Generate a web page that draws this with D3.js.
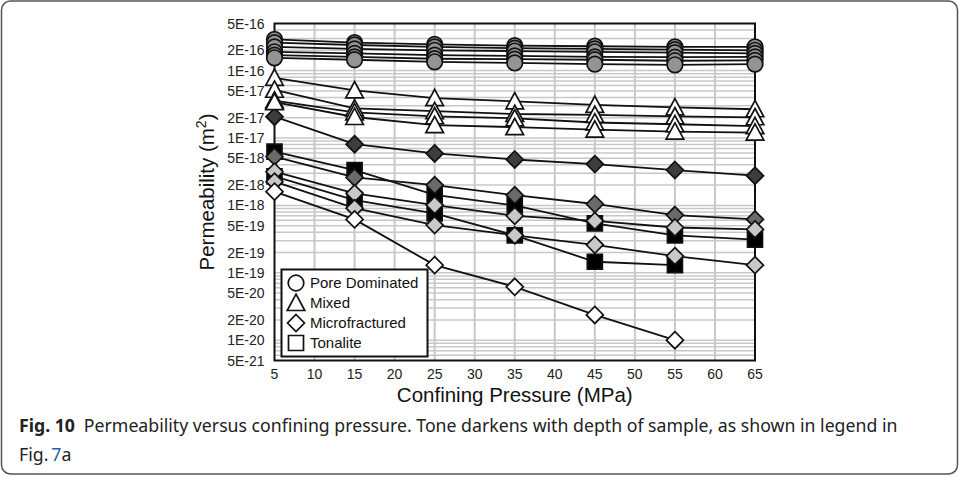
<!DOCTYPE html>
<html>
<head>
<meta charset="utf-8">
<script src="https://cdn.jsdelivr.net/npm/d3@7"></script>
<style>
  body { margin: 0; background: #fff; }
  svg { display: block; }
  .tick-label { font-family: 'Liberation Sans', Arial, sans-serif; font-size: 14px; fill: #222; }
  .axis-title { font-family: 'Liberation Sans', Arial, sans-serif; font-size: 20.5px; fill: #111; }
  .legend-label { font-family: 'Liberation Sans', Arial, sans-serif; font-size: 15px; fill: #111; }
  .caption { font-family: 'Noto Sans', 'Open Sans', sans-serif; font-size: 18.5px; fill: #222; }
</style>
</head>
<body>
<div id="chart"></div>
<script>
const pressures = [5, 15, 25, 35, 45, 55, 65]
const xTicks = [5, 10, 15, 20, 25, 30, 35, 40, 45, 50, 55, 60, 65]
const yTicks = [5e-16, 2e-16, 1e-16, 5e-17, 2e-17, 1e-17, 5e-18, 2e-18, 1e-18, 5e-19, 2e-19, 1e-19, 5e-20, 2e-20, 1e-20, 5e-21]
const yTickLabels = ['5E-16', '2E-16', '1E-16', '5E-17', '2E-17', '1E-17', '5E-18', '2E-18', '1E-18', '5E-19', '2E-19', '1E-19', '5E-20', '2E-20', '1E-20', '5E-21']

// permeability (m2) per sample, one value per confining pressure
const poreDominated = [
  [2.9e-16, 2.6e-16, 2.45e-16, 2.35e-16, 2.3e-16, 2.25e-16, 2.25e-16],
  [2.6e-16, 2.4e-16, 2.25e-16, 2.15e-16, 2.1e-16, 2.05e-16, 2.0e-16],
  [2.25e-16, 2.1e-16, 2.0e-16, 1.95e-16, 1.9e-16, 1.85e-16, 1.8e-16],
  [1.9e-16, 1.8e-16, 1.7e-16, 1.65e-16, 1.6e-16, 1.58e-16, 1.6e-16],
  [1.7e-16, 1.6e-16, 1.5e-16, 1.48e-16, 1.45e-16, 1.4e-16, 1.42e-16],
  [1.55e-16, 1.45e-16, 1.35e-16, 1.3e-16, 1.25e-16, 1.22e-16, 1.25e-16]
]
const mixed = [
  [7.8e-17, 5.1e-17, 3.9e-17, 3.5e-17, 3.1e-17, 2.85e-17, 2.67e-17],
  [5.2e-17, 2.75e-17, 2.5e-17, 2.27e-17, 2.2e-17, 2.1e-17, 2.03e-17],
  [3.6e-17, 2.4e-17, 2.1e-17, 1.96e-17, 1.7e-17, 1.6e-17, 1.5e-17],
  [3.4e-17, 2.05e-17, 1.55e-17, 1.45e-17, 1.33e-17, 1.24e-17, 1.2e-17]
]
const microfractured = [
  [2.07e-17, 8.1e-18, 5.9e-18, 4.8e-18, 4.1e-18, 3.35e-18, 2.76e-18],
  [5.3e-18, 2.6e-18, 2.0e-18, 1.42e-18, 1.05e-18, 7.2e-19, 6.2e-19],
  [3.16e-18, 1.51e-18, 1.01e-18, 7.0e-19, 5.9e-19, 4.7e-19, 4.4e-19],
  [2.25e-18, 9.1e-19, 5.1e-19, 3.6e-19, 2.6e-19, 1.77e-19, 1.3e-19],
  [1.6e-18, 6.2e-19, 1.3e-19, 6.2e-20, 2.37e-20, 1.0e-20, null]
]
const tonalite = [
  [6.3e-18, 3.35e-18, 1.43e-18, 1.0e-18, 5.4e-19, 3.6e-19, 3.1e-19],
  [2.7e-18, 1.2e-18, 7.6e-19, 3.6e-19, 1.46e-19, 1.3e-19, null]
]
const legendNames = ['Pore Dominated', 'Mixed', 'Microfractured', 'Tonalite']

// tones (sample depth) for each series
const poreTones = ['#949494', '#949494', '#949494', '#949494', '#949494', '#949494']
const mixedTones = ['#fff', '#fff', '#fff', '#fff']
const microTones = ['#3d3d3d', '#6a6a6a', '#c8c8c8', '#c8c8c8', '#fff']
const tonaliteTones = ['#000', '#000']

const W = 959
const H = 477
const margin = { left: 274.5, right: 755, top: 23.5, bottom: 360.5 }

const svg = d3.select('#chart').append('svg')
  .attr('width', W)
  .attr('height', H)

const x = d3.scaleLinear().domain([5, 65]).range([margin.left, margin.right])
const y = d3.scaleLog().domain([5e-21, 5e-16]).range([margin.bottom, margin.top])

// figure frame
svg.append('rect')
  .attr('x', 1.5).attr('y', 1)
  .attr('width', W - 3).attr('height', H - 4)
  .attr('rx', 9)
  .style('fill', 'none')
  .style('stroke', '#555')
  .style('stroke-width', 1.5)

// grid
const minor = []
for (let e = -21; e <= -16; e++) {
  for (let k = 1; k <= 9; k++) {
    const v = k * Math.pow(10, e)
    if (v > 5e-21 && v < 5e-16) minor.push(v)
  }
}
const grid = svg.append('g')
grid.selectAll('line.h')
  .data(minor)
  .enter()
  .append('line')
  .attr('x1', margin.left).attr('x2', margin.right)
  .attr('y1', (d) => y(d)).attr('y2', (d) => y(d))
  .style('stroke', '#c8c8c8')
  .style('stroke-width', 1.5)
grid.selectAll('line.v')
  .data(xTicks.slice(1, -1))
  .enter()
  .append('line')
  .attr('x1', (d) => x(d)).attr('x2', (d) => x(d))
  .attr('y1', margin.top).attr('y2', margin.bottom)
  .style('stroke', '#c8c8c8')
  .style('stroke-width', 2)

svg.append('rect')
  .attr('x', margin.left).attr('y', margin.top)
  .attr('width', margin.right - margin.left)
  .attr('height', margin.bottom - margin.top)
  .style('fill', 'none')
  .style('stroke', '#111')
  .style('stroke-width', 2)

// tick labels
svg.selectAll('text.ytick')
  .data(yTicks)
  .enter()
  .append('text')
  .attr('class', 'tick-label')
  .attr('x', margin.left - 10)
  .attr('y', (d) => y(d) + 5)
  .attr('text-anchor', 'end')
  .text((d, i) => yTickLabels[i])

svg.selectAll('text.xtick')
  .data(xTicks)
  .enter()
  .append('text')
  .attr('class', 'tick-label')
  .attr('x', (d) => x(d))
  .attr('y', margin.bottom + 18)
  .attr('text-anchor', 'middle')
  .text((d) => d)

svg.append('text')
  .attr('class', 'axis-title')
  .attr('x', (margin.left + margin.right) / 2)
  .attr('y', 402)
  .attr('text-anchor', 'middle')
  .text('Confining Pressure (MPa)')

const yTitle = svg.append('text')
  .attr('class', 'axis-title')
  .attr('text-anchor', 'middle')
  .attr('transform', `translate(214, ${(margin.top + margin.bottom) / 2}) rotate(-90)`)
yTitle.append('tspan').text('Permeability (m')
yTitle.append('tspan').attr('dy', -8).style('font-size', '14px').text('2')
yTitle.append('tspan').attr('dy', 8).text(')')

// marker shapes
function circlePath (r) { return d3.symbol().type(d3.symbolCircle).size(Math.PI * r * r)() }
function diamondPath (s) { return `M0,${-s}L${s},0L0,${s}L${-s},0Z` }
function squarePath (s) { return `M${-s},${-s}H${s}V${s}H${-s}Z` }
function trianglePath (s) { return `M0,${-s}L${s},${s * 0.85}L${-s},${s * 0.85}Z` }

const groups = [
  { series: tonalite, tones: tonaliteTones, path: squarePath(7.5) },
  { series: microfractured, tones: microTones, path: diamondPath(8.5) },
  { series: mixed, tones: mixedTones, path: trianglePath(8.8) },
  { series: poreDominated, tones: poreTones, path: circlePath(7.8) }
]

const line = d3.line()
  .defined((d) => d[1] !== null)
  .x((d) => x(d[0]))
  .y((d) => y(d[1]))

const lineLayer = svg.append('g')
const markLayer = svg.append('g')

groups.forEach((g) => {
  g.series.forEach((vals) => {
    const pts = pressures.map((p, i) => [p, vals[i]])
    lineLayer.append('path')
      .attr('d', line(pts))
      .style('fill', 'none')
      .style('stroke', '#111')
      .style('stroke-width', 1.8)
  })
})

groups.forEach((g) => {
  g.series.forEach((vals, si) => {
    const pts = pressures.map((p, i) => [p, vals[i]]).filter((d) => d[1] !== null)
    markLayer.selectAll(null)
      .data(pts)
      .enter()
      .append('path')
      .attr('d', g.path)
      .attr('transform', (d) => `translate(${x(d[0])},${y(d[1])})`)
      .style('fill', (d) => {
        // first mixed-sample point plotted in light grey in the source
        if (g.series === mixed && si === 2 && d[0] === 5) return '#c8c8c8'
        return g.tones[si]
      })
      .style('stroke', '#111')
      .style('stroke-width', 1.7)
  })
})

// legend
const legend = svg.append('g')
legend.append('rect')
  .attr('x', 281.5).attr('y', 269.5)
  .attr('width', 146).attr('height', 87)
  .style('fill', '#fff')
  .style('stroke', '#111')
  .style('stroke-width', 2)
const legendShapes = [circlePath(7.8), trianglePath(8.8), diamondPath(8.5), squarePath(7.5)]
legendNames.forEach((name, i) => {
  const ly = 283 + i * 20
  legend.append('path')
    .attr('d', legendShapes[i])
    .attr('transform', `translate(296,${ly})`)
    .style('fill', '#fff')
    .style('stroke', '#111')
    .style('stroke-width', 1.7)
  legend.append('text')
    .attr('class', 'legend-label')
    .attr('x', 310)
    .attr('y', ly + 5)
    .text(name)
})

// caption, set in a narrow face: squeeze the text horizontally to the source line width
const capWidth = 879
const cap1 = svg.append('text')
  .attr('class', 'caption')
cap1.append('tspan').style('font-weight', 'bold').text('Fig. 10')
cap1.append('tspan').text('\u2002Permeability versus confining pressure. Tone darkens with depth of sample, as shown in legend in')
const squeeze = capWidth / cap1.node().getComputedTextLength()
cap1.attr('transform', `translate(19,432) scale(${squeeze},1)`)

const cap2 = svg.append('text')
  .attr('class', 'caption')
  .attr('transform', `translate(19,461) scale(${squeeze},1)`)
cap2.append('tspan').text('Fig.\u2009')
cap2.append('tspan').style('fill', '#2a5db0').text('7')
cap2.append('tspan').text('a')
</script>
</body>
</html>
